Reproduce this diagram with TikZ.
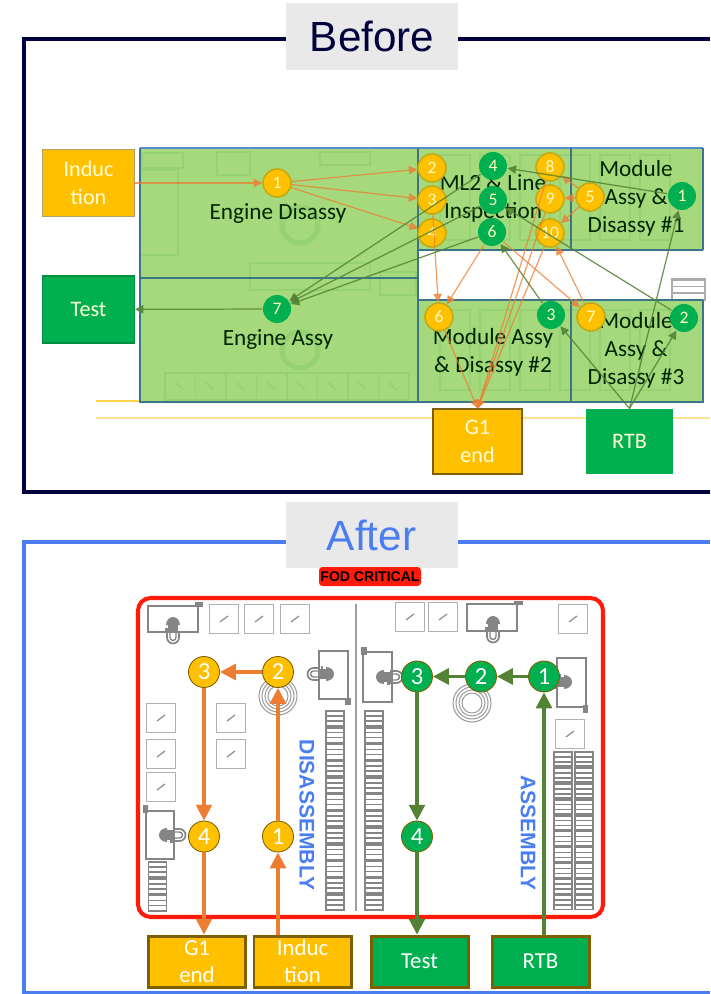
\documentclass[tikz,border=0pt]{standalone}
\usepackage{fontspec}
\setmainfont{Carlito}
\newfontfamily\arialfont{Liberation Sans}
\usetikzlibrary{arrows.meta, positioning, calc}
\definecolor{navycol}{HTML}{00003C}
\definecolor{bluecol}{HTML}{4A7EF0}
\definecolor{titlecol}{HTML}{E9E9E9}
\definecolor{ambercol}{HTML}{FFC000}
\definecolor{greencol}{HTML}{00B050}
\definecolor{browncol}{HTML}{7F6000}
\definecolor{orangecol}{HTML}{ED7D31}
\definecolor{olivecol}{HTML}{548235}
\definecolor{cellcol}{HTML}{A5D97C}
\definecolor{celldark}{HTML}{96D174}
\definecolor{celledge}{HTML}{3A7688}
\definecolor{iconcol}{HTML}{858585}
\definecolor{squarecol}{HTML}{B0B0B0}
\definecolor{redcol}{HTML}{FF1A0A}

\begin{document}
\begin{tikzpicture}[
  titlebox/.style={
    fill=titlecol, minimum width=1.72cm, minimum height=0.67cm,
    font=\arialfont\fontsize{12}{14}\selectfont
  },
  oldbox/.style={
    minimum width=0.92cm, minimum height=0.67cm, inner sep=0pt, align=center,
    text=white!85!yellow, font=\fontsize{6.3}{8}\selectfont, line width=0.3pt
  },
  newbox/.style={
    draw=browncol, minimum width=0.97cm, minimum height=0.51cm, inner sep=0pt, align=center,
    text=white, font=\fontsize{6.5}{7.7}\selectfont, line width=0.85pt
  },
  oldnum/.style={
    circle, minimum size=0.28cm, inner sep=0pt, line width=0.45pt,
    text=white!75!yellow, font=\fontsize{5}{6}\selectfont
  },
  newnum/.style={
    circle, draw=browncol, minimum size=0.31cm, inner sep=0pt, line width=0.25pt,
    text=white, font=\fontsize{7}{8}\selectfont
  },
  amber/.style={fill=ambercol},
  grn/.style={fill=greencol},
  area/.style={
    align=center, text=black!75!green!60!black, inner sep=0pt,
    font=\fontsize{6.6}{8}\selectfont
  },
  cellline/.style={draw=celledge, line width=0.5pt},
  faint/.style={draw=celldark, line width=0.4pt},
  oldor/.style={-{Triangle[length=2.4pt, width=2.4pt]}, orangecol, line width=0.35pt, opacity=0.75},
  oldgr/.style={-{Triangle[length=2.4pt, width=2.4pt]}, olivecol, line width=0.35pt, opacity=0.85},
  newor/.style={-{Triangle[length=4.5pt, width=4.5pt]}, orangecol, line width=0.9pt},
  newgr/.style={-{Triangle[length=4.5pt, width=4.5pt]}, olivecol, line width=0.9pt},
  icon/.style={draw=iconcol, line width=0.55pt},
  tab/.style={fill=iconcol},
  square/.style={
    draw=squarecol, minimum size=0.29cm, inner sep=0pt, line width=0.5pt,
    path picture={\draw[squarecol!80!black, line width=0.35pt]
      ($(path picture bounding box.center)+(-0.04,-0.03)$) -- +(0.08,0.06);}
  },
  operator/.pic={
    \fill[iconcol] (-0.07,0.05) arc (180:0:0.07 and 0.08) -- cycle;
    \fill[iconcol] (-0.05,-0.02) rectangle (0.05,0.05);
    \fill[iconcol] (-0.08,-0.005) rectangle (-0.05,0.02);
    \draw[iconcol, line width=0.5pt] (-0.06,-0.01) -- (-0.06,-0.075) arc (180:360:0.06) -- (0.06,-0.01);
    \draw[iconcol, line width=0.4pt] (-0.03,-0.02) -- (-0.03,-0.075) arc (180:360:0.03) -- (0.03,-0.02);
  },
  word/.style={
    text=bluecol, inner sep=0pt, rotate=-90,
    font=\arialfont\bfseries\fontsize{6}{7}\selectfont
  }
]
\useasboundingbox (0,0) rectangle (7.10,-9.94);

% ============ BEFORE ============

% frame and title
\draw[navycol, line width=1.2pt] (7.10,-0.39) -- (0.24,-0.39) -- (0.24,-4.92) -- (7.10,-4.92);
\node[titlebox, text=navycol] (before) at (3.72,-0.365) {Before};

% floor strips
\draw[ambercol!70, line width=0.6pt] (0.96,-4.01) -- (1.40,-4.01);
\draw[ambercol!45, line width=0.6pt] (0.96,-4.18) -- (7.10,-4.18);

% green floor
\fill[cellcol] (1.40,-1.48) rectangle (7.03,-4.02);
\fill[white] (4.18,-2.50) rectangle (7.10,-3.00);
\draw[cyan!50!blue!70, line width=0.5pt] (1.40,-1.48) -- (7.03,-1.48);

% faint equipment under the green
\draw[faint] (1.42,-1.53) rectangle (1.83,-1.68);
\draw[faint] (1.42,-1.70) -- (1.78,-1.70) -- (1.78,-2.55) -- (1.42,-2.55);
\draw[faint] (2.17,-1.52) rectangle (2.50,-1.75);
\draw[faint] (2.50,-2.63) rectangle (3.70,-2.90);
\draw[faint] (3.20,-1.52) rectangle (3.70,-1.65);
\draw[faint] (3.80,-2.72) rectangle (4.16,-2.95);
\draw[faint, line width=1.5pt] (3.00,-2.25) circle (0.18);
\draw[faint, line width=1.5pt] (3.00,-3.50) circle (0.18);
\foreach \k in {0,...,7}{
  \draw[faint] ({1.65+0.305*\k},-3.73) rectangle +(0.305,-0.27);
  \draw[faint] ({1.75+0.305*\k},-3.82) -- +(0.08,-0.08);
}
\foreach \k in {0,...,5}{
  \draw[faint] ({4.40+0.40*\k},-3.10) rectangle +(0.30,-0.80);
  \draw[faint] ({4.40+0.40*\k},-1.55) rectangle +(0.30,-0.85);
}

% small rack in the gap
\foreach \k in {0,1,2}{
  \draw[iconcol!70, line width=0.4pt] (6.72,{-2.80-0.065*\k}) -- +(0.33,0);
}
\draw[iconcol!70, line width=0.4pt] (6.72,-2.79) rectangle (7.05,-3.00);

% cell edges
\draw[cellline] (1.40,-1.48) -- (1.40,-4.02) -- (7.03,-4.02) -- (7.03,-3.00);
\draw[cellline] (7.03,-2.50) -- (7.03,-1.48);
\draw[cellline] (1.40,-2.78) -- (4.18,-2.78);
\draw[cellline] (4.18,-1.48) -- (4.18,-4.02);
\draw[cellline] (4.18,-2.50) -- (7.03,-2.50);
\draw[cellline] (4.18,-3.00) -- (7.03,-3.00);
\draw[cellline] (5.71,-1.48) -- (5.71,-2.50);
\draw[cellline] (5.71,-3.00) -- (5.71,-4.02);

% area labels
\node[area] (disassy) at (2.78,-2.14) {Engine Disassy};
\node[area] (assy) at (2.78,-3.40) {Engine Assy};
\node[area] (ml2) at (4.93,-1.98) {ML2 \& Line\\Inspection};
\node[area] (modone) at (6.36,-1.98) {Module\\Assy \&\\Disassy \#1};
\node[area] (modtwo) at (4.93,-3.52) {Module Assy\\\& Disassy \#2};
\node[area] (modthree) at (6.36,-3.50) {Module\\Assy \&\\Disassy \#3};

% side boxes
\node[oldbox, amber, draw=browncol!60] (indold) at (0.885,-1.83) {Induc\\tion};
\node[oldbox, grn, draw=greencol!80!black] (testold) at (0.885,-3.095) {Test};
\node[oldbox, amber, draw=browncol, minimum width=0.89cm, minimum height=0.65cm] (gold) at (4.775,-4.415) {G1\\end};
\node[oldbox, grn, minimum width=0.87cm, minimum height=0.65cm] (rtbold) at (6.295,-4.415) {RTB};

% numbered stations
\foreach \nm/\px/\py/\lb in {a1/2.77/1.83/1, a2/4.32/1.68/2, a3/4.32/2.00/3, a4/4.32/2.33/4,
    a5/5.90/1.97/5, a6/4.39/3.17/6, a7/5.91/3.17/7, a8/5.50/1.67/8, a9/5.50/1.99/9, a10/5.50/2.33/10}{
  \node[oldnum, amber, draw=ambercol!65!olivecol] (\nm) at (\px,-\py) {\lb};
}
\foreach \nm/\px/\py/\lb in {g1/6.82/1.96/1, g2/6.84/3.18/2, g3/5.51/3.15/3, g4/4.93/1.66/4,
    g5/4.93/2.00/5, g6/4.92/2.32/6, g7/2.77/3.09/7}{
  \node[oldnum, grn] (\nm) at (\px,-\py) {\lb};
}

% old flow, orange
\draw[oldor] (indold) -- (a1);
\foreach \nm in {a2,a3,a4}{
  \draw[oldor] (a1) -- (\nm);
}
\foreach \nm in {a8,a9,a10}{
  \draw[oldor] (a5) -- (\nm);
  \draw[oldor] (\nm) -- (gold.north);
}
\draw[oldor] (a7) -- (a10);
\draw[oldor] (g6) -- (a7);
\draw[oldor] (a3) -- (a6);
\draw[oldor] (g6) -- (a6);
\draw[oldor] (a6) -- (gold.north);

% old flow, green
\draw[oldgr] (g7) -- (testold);
\foreach \nm in {g4,g5,g6}{
  \draw[oldgr] (\nm) -- (g7);
}
\draw[oldgr] (g1) -- (g4);
\draw[oldgr] (g2) -- (g5);
\draw[oldgr] (g3) -- (g6);
\foreach \nm in {g1,g2,g3}{
  \draw[oldgr] (rtbold.north) -- (\nm);
}

% ============ AFTER ============

% frame and title
\draw[bluecol, line width=1.1pt] (7.10,-5.42) -- (0.24,-5.42) -- (0.24,-9.925) -- (7.10,-9.925);
\node[titlebox, text=bluecol, minimum height=0.66cm] (after) at (3.715,-5.35) {After};
\node[fill=redcol, rounded corners=1pt, minimum width=1.02cm, minimum height=0.19cm, inner sep=0pt,
  font=\arialfont\bfseries\fontsize{4}{5}\selectfont] (fod) at (3.70,-5.765) {FOD CRITICAL};

% cell outline
\draw[redcol, line width=1.15pt, rounded corners=3.6pt] (1.38,-5.98) rectangle (6.03,-9.17);

% divider
\draw[squarecol!90!black, line width=0.45pt] (3.56,-6.04) -- (3.56,-9.11);

% operators
\pic at (1.73,-6.30) {operator};
\pic[rotate=-90] at (3.21,-6.74) {operator};
\pic[rotate=90] at (1.72,-8.35) {operator};
\pic[rotate=90] at (3.89,-6.77) {operator};
\pic at (4.93,-6.29) {operator};
\pic[rotate=-90] at (5.59,-6.82) {operator};

% benches with a tab at one corner
\foreach \xa/\ya/\xb/\yb/\ta/\tb/\tc/\td in {
    1.48/6.06/1.98/6.32/1.95/6.02/2.03/6.07,
    3.19/6.51/3.48/6.99/3.45/6.98/3.51/7.05,
    1.46/8.11/1.74/8.59/1.43/8.05/1.48/8.13,
    3.63/6.52/3.92/7.02/3.61/6.47/3.67/6.55,
    4.67/6.04/5.17/6.31/5.14/6.01/5.23/6.05,
    5.57/6.58/5.86/7.07/5.83/7.05/5.88/7.13}{
  \draw[icon, line width=0.65pt] (\xa,-\ya) rectangle (\xb,-\yb);
  \fill[tab] (\ta,-\tb) rectangle (\tc,-\td);
}

% squares
\foreach \px/\py in {2.24/6.19, 2.59/6.19, 2.95/6.19, 1.61/7.18, 1.61/7.54, 1.61/7.87,
    2.31/7.18, 2.31/7.54, 4.10/6.17, 4.43/6.17, 5.73/6.19, 5.70/7.34}{
  \node[square] at (\px,-\py) {};
}

% racks
\foreach \px/\py/\rn/\rh in {3.26/7.11/12/0.167, 3.65/7.11/12/0.167, 5.54/7.52/10/0.159,
    5.75/7.52/10/0.159, 1.485/8.62/3/0.167}{
  \foreach \k in {1,...,\rn}{
    \draw[icon] (\px,{-\py-(\k-1)*\rh}) rectangle +(0.18,{-\rh+0.015});
    \draw[icon, line width=0.45pt] (\px,{-\py-(\k-1)*\rh-0.05}) -- +(0.18,0);
    \draw[icon, line width=0.45pt] (\px,{-\py-(\k-1)*\rh-0.10}) -- +(0.18,0);
  }
}

% rings
\foreach \rr in {0.19,0.16,0.13,0.10}{
  \draw[iconcol!80, line width=0.3pt] (2.78,-6.96) circle (\rr);
  \draw[iconcol!80, line width=0.3pt] (4.72,-7.03) circle (\rr);
}

% side words
\node[word] (disw) at (3.07,-8.15) {DISASSEMBLY};
\node[word] (assw) at (5.28,-8.33) {ASSEMBLY};

% new stations
\node[newnum, amber] (n1) at (2.78,-8.365) {1};
\node[newnum, amber] (n2) at (2.78,-6.72) {2};
\node[newnum, amber] (n3) at (2.04,-6.72) {3};
\node[newnum, amber] (n4) at (2.04,-8.365) {4};
\node[newnum, grn] (m1) at (5.44,-6.765) {1};
\node[newnum, grn] (m2) at (4.81,-6.765) {2};
\node[newnum, grn] (m3) at (4.17,-6.765) {3};
\node[newnum, grn] (m4) at (4.17,-8.365) {4};

% bottom boxes
\node[newbox, amber] (gnew) at (1.97,-9.615) {G1\\end};
\node[newbox, amber] (indnew) at (3.025,-9.615) {Induc\\tion};
\node[newbox, grn] (testnew) at (4.195,-9.615) {Test};
\node[newbox, grn] (rtbnew) at (5.405,-9.615) {RTB};

% new flow
\draw[newor] (n1 |- indnew.north) -- (n1);
\draw[newor] (n1) -- (n2);
\draw[newor] (n2) -- (n3);
\draw[newor] (n3) -- (n4);
\draw[newor] (n4) -- (n4 |- gnew.north);
\draw[newgr] (m1 |- rtbnew.north) -- (m1);
\draw[newgr] (m1) -- (m2);
\draw[newgr] (m2) -- (m3);
\draw[newgr] (m3) -- (m4);
\draw[newgr] (m4) -- (m4 |- testnew.north);

\end{tikzpicture}
\end{document}
